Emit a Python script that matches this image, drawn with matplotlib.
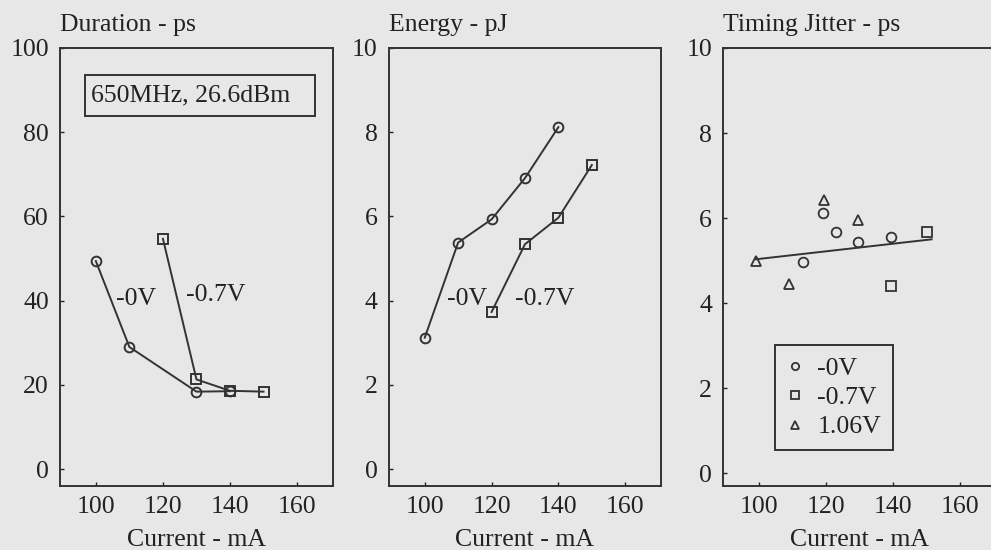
import matplotlib
matplotlib.use("Agg")
import matplotlib.pyplot as plt
from matplotlib.patches import Rectangle

# Duration (ps) vs current (mA)
dur_0v_x = [100, 110, 130, 140]
dur_0v_y = [49.4, 29.0, 18.4, 18.5]
dur_07v_x = [120, 130, 140, 150]
dur_07v_y = [54.7, 21.3, 18.6, 18.4]

# Energy (pJ) vs current (mA)
en_0v_x = [100, 110, 120, 130, 140]
en_0v_y = [3.12, 5.38, 5.93, 6.91, 8.12]
en_07v_x = [120, 130, 140, 150]
en_07v_y = [3.73, 5.34, 5.97, 7.22]

# Timing jitter (ps) vs current (mA)
jit_0v_x = [113, 119, 123, 129.5, 139.5]
jit_0v_y = [4.97, 6.12, 5.67, 5.44, 5.55]
jit_07v_x = [139.5, 150]
jit_07v_y = [4.41, 5.67]
jit_106v_x = [99, 109, 119.5, 129.5]
jit_106v_y = [5.0, 4.45, 6.43, 5.96]
fit_x = [99, 151.5]
fit_y = [5.03, 5.5]

x_ticks = [100, 120, 140, 160]

BG = "#e7e7e7"
INK = "#222222"
LINE = "#333333"
FS = 18.5

plt.rcParams["font.family"] = ["Liberation Serif", "DejaVu Serif"]
plt.rcParams["font.size"] = FS
plt.rcParams["text.color"] = INK
plt.rcParams["axes.labelcolor"] = INK
plt.rcParams["xtick.color"] = INK
plt.rcParams["ytick.color"] = INK

fig = plt.figure(figsize=(9.91, 5.5), dpi=100, facecolor=BG)

bottom, height = 0.1164, 0.7964
ax1 = fig.add_axes([0.0605, bottom, 0.2755, height])
ax2 = fig.add_axes([0.3925, bottom, 0.2745, height])
ax3 = fig.add_axes([0.7296, bottom, 0.2755, height])

mk = dict(color=LINE, lw=1.4, markersize=7, markerfacecolor="none",
          markeredgewidth=1.4, markeredgecolor=LINE)

for ax in (ax1, ax2, ax3):
    ax.set_facecolor(BG)
    ax.set_xlim(89.3, 170.7)
    ax.set_xticks(x_ticks)
    for s in ax.spines.values():
        s.set_color(LINE)
        s.set_linewidth(1.4)
    ax.tick_params(direction="in", length=3, width=1, top=False, right=False)
    ax.tick_params(axis="x", pad=7)
    ax.tick_params(axis="y", pad=8)
    ax.set_xlabel("Current - mA", labelpad=8)

# panel 1: duration
ax1.plot(dur_0v_x, dur_0v_y, marker="o", **mk)
ax1.plot(dur_07v_x, dur_07v_y, marker="s", **mk)
ax1.set_ylim(-4, 100)
ax1.set_yticks([0, 20, 40, 60, 80, 100])
ax1.set_title("Duration - ps", loc="left", pad=12, fontsize=FS)
ax1.text(106.0, 40.5, "-0V", va="center", ha="left")
ax1.text(126.9, 41.4, "-0.7V", va="center", ha="left")
ax1.add_patch(Rectangle((0.0916, 0.845), 0.842, 0.093, transform=ax1.transAxes,
                        fill=False, edgecolor=LINE, lw=1.4))
ax1.text(0.48, 0.8915, "650MHz, 26.6dBm", transform=ax1.transAxes,
         ha="center", va="center")

# panel 2: energy
ax2.plot(en_0v_x, en_0v_y, marker="o", **mk)
ax2.plot(en_07v_x, en_07v_y, marker="s", **mk)
ax2.set_ylim(-0.4, 10)
ax2.set_yticks([0, 2, 4, 6, 8, 10])
ax2.set_title("Energy - pJ", loc="left", pad=12, fontsize=FS)
ax2.text(106.6, 4.05, "-0V", va="center", ha="left")
ax2.text(126.9, 4.05, "-0.7V", va="center", ha="left")

# panel 3: timing jitter
sc = dict(linestyle="none", markersize=7, markerfacecolor="none",
          markeredgewidth=1.3, markeredgecolor=LINE)
h1, = ax3.plot(jit_0v_x, jit_0v_y, marker="o", label="-0V", **sc)
h2, = ax3.plot(jit_07v_x, jit_07v_y, marker="s", label="-0.7V", **sc)
h3, = ax3.plot(jit_106v_x, jit_106v_y, marker="^", label="1.06V", **sc)
ax3.plot(fit_x, fit_y, color=LINE, lw=1.4)
ax3.set_ylim(-0.3, 10)
ax3.set_yticks([0, 2, 4, 6, 8, 10])
ax3.set_title("Timing Jitter - ps", loc="left", pad=12, fontsize=FS)
leg = ax3.legend(handles=[h1, h2, h3], loc="lower left",
                 bbox_to_anchor=(0.19, 0.082), borderaxespad=0,
                 fancybox=False, framealpha=1, facecolor=BG, edgecolor=LINE,
                 handlelength=0.7, handletextpad=0.5, labelspacing=0.25,
                 borderpad=0.45, markerscale=0.75, fontsize=FS)
leg.get_frame().set_linewidth(1.4)

fig.savefig("out.png", dpi=100, facecolor=BG)
